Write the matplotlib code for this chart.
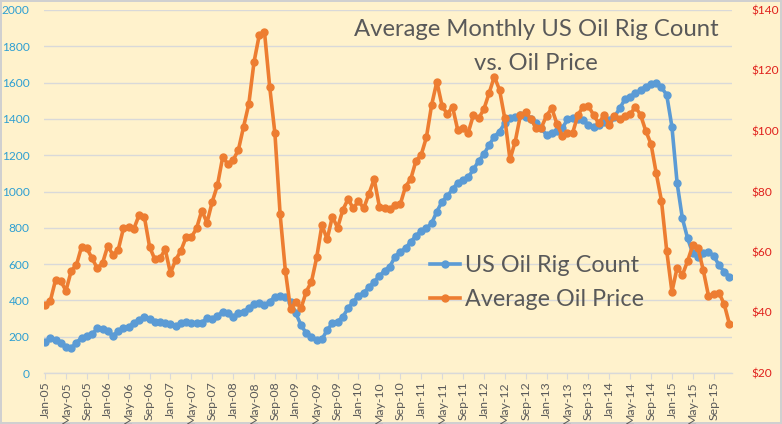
import matplotlib
matplotlib.use("Agg")
import matplotlib.pyplot as plt
import numpy as np
from matplotlib.lines import Line2D

plt.rcParams['font.family'] = ['Lato', 'DejaVu Sans']

# ---- data ----
years = list(range(2005, 2016))
month_names = ['Jan', 'Feb', 'Mar', 'Apr', 'May', 'Jun', 'Jul', 'Aug', 'Sep', 'Oct', 'Nov', 'Dec']
categories = [f"{m}-{str(y)[2:]}" for y in years for m in month_names]

rig_count = [
    169, 191, 182, 164, 142, 136, 167, 195, 204, 213, 246, 241,
    233, 204, 231, 246, 252, 277, 292, 310, 296, 279, 279, 277,
    268, 259, 274, 279, 274, 277, 277, 301, 296, 314, 338, 329,
    310, 329, 338, 356, 378, 387, 375, 393, 420, 424, 420, 393,
    329, 264, 219, 200, 182, 185, 237, 274, 283, 310, 356, 393,
    424, 443, 472, 503, 534, 564, 586, 641, 668, 687, 723, 755,
    784, 797, 825, 889, 944, 975, 1012, 1049, 1063, 1078, 1122, 1168,
    1205, 1256, 1302, 1330, 1376, 1403, 1412, 1421, 1412, 1397, 1376, 1348,
    1311, 1324, 1333, 1348, 1397, 1403, 1397, 1394, 1366, 1357, 1366, 1385,
    1394, 1412, 1458, 1508, 1523, 1541, 1559, 1577, 1592, 1596, 1574, 1532,
    1357, 1045, 852, 742, 659, 641, 659, 668, 645, 595, 558, 531,
]

oil_price = [
    42.5, 43.8, 50.7, 50.4, 47.2, 53.7, 55.7, 61.8, 61.2, 57.9, 54.6, 56.3,
    62.0, 59.0, 60.7, 67.8, 68.2, 67.7, 72.2, 71.7, 61.8, 57.6, 57.9, 60.9,
    53.0, 57.4, 60.4, 64.9, 64.9, 67.8, 73.7, 69.7, 76.6, 82.1, 91.3, 89.1,
    90.4, 93.7, 101.4, 108.9, 122.8, 131.7, 132.8, 114.6, 99.2, 72.4, 53.8, 41.0,
    43.6, 41.4, 46.9, 50.2, 58.2, 68.9, 64.2, 71.7, 68.0, 73.9, 77.5, 74.4,
    76.9, 74.4, 79.2, 84.1, 75.0, 74.4, 74.1, 75.5, 75.8, 81.6, 84.1, 90.1,
    92.1, 97.9, 108.6, 116.3, 108.3, 105.6, 108.0, 100.3, 100.9, 99.4, 105.3, 104.2,
    107.2, 112.5, 118.0, 113.6, 104.2, 90.6, 96.5, 105.3, 106.2, 104.0, 100.9, 101.1,
    105.1, 107.5, 102.3, 98.4, 99.4, 99.4, 105.3, 108.0, 108.3, 105.3, 102.5, 105.3,
    102.0, 105.0, 104.0, 104.8, 105.5, 108.0, 105.3, 100.0, 95.7, 86.0, 76.9, 60.4,
    46.9, 54.8, 52.4, 57.0, 62.3, 61.2, 54.0, 45.5, 46.0, 46.5, 42.8, 36.2,
]

left_ticks = [0, 200, 400, 600, 800, 1000, 1200, 1400, 1600, 1800, 2000]
right_ticks = [20, 40, 60, 80, 100, 120, 140]
right_labels = [f"${v}" for v in right_ticks]

series_names = ["US Oil Rig Count", "Average Oil Price"]
title_lines = ["Average Monthly US Oil Rig Count", "vs. Oil Price"]

# ---- style ----
BG = '#FFF2CC'
BLUE = '#5B9BD5'
ORANGE = '#ED7D31'
GRID = '#D9D9D9'
TEXT = '#595959'
LEFT_LBL = '#2E9FD2'
RIGHT_LBL = '#E0201B'

W, H = 782, 424
fig = plt.figure(figsize=(W / 100, H / 100), dpi=100)
fig.patch.set_facecolor(BG)
fig.patch.set_edgecolor('#D0D0D0')
fig.patch.set_linewidth(1.5)

x0, x1, ytop, ybot = 43.5, 732, 10, 373
ax = fig.add_axes([x0 / W, (H - ybot) / H, (x1 - x0) / W, (ybot - ytop) / H])
ax.set_facecolor(BG)
x = np.arange(len(categories))

ax.plot(x, rig_count, color=BLUE, lw=2.6, marker='o', ms=5, zorder=3,
        solid_joinstyle='round')
ax.set_ylim(0, 2000)
ax.set_xlim(-0.3, len(categories) - 1 + 0.5)
ax.set_yticks(left_ticks)
ax.grid(axis='y', color=GRID, lw=1.0)
ax.set_axisbelow(True)
for s in ['top', 'left', 'right']:
    ax.spines[s].set_visible(False)
ax.spines['bottom'].set_color(GRID)
ax.spines['bottom'].set_linewidth(1.0)
ax.tick_params(axis='y', length=0, labelcolor=LEFT_LBL, labelsize=8.6, pad=10)
ax.set_xticks(x[::4])
ax.set_xticklabels(categories[::4], rotation=90, fontsize=8.8, color=TEXT)
ax.tick_params(axis='x', length=4, color=GRID, pad=2)

ax2 = ax.twinx()
ax2.plot(x, oil_price, color=ORANGE, lw=2.6, marker='o', ms=5, zorder=3,
         solid_joinstyle='round')
ax2.set_ylim(20, 140)
ax2.set_yticks(right_ticks)
ax2.set_yticklabels(right_labels)
ax2.tick_params(axis='y', length=0, labelcolor=RIGHT_LBL, labelsize=8.6, pad=14)
for s in ['top', 'left', 'right', 'bottom']:
    ax2.spines[s].set_visible(False)

handles = [Line2D([], [], color=BLUE, lw=2.6, marker='o', ms=5),
           Line2D([], [], color=ORANGE, lw=2.6, marker='o', ms=5)]
fig.legend(handles, series_names, loc='center left',
           bbox_to_anchor=(430 / W, 1 - 282.5 / H), frameon=False,
           fontsize=16.8, handlelength=1.3, handletextpad=0.2,
           labelspacing=0.58, borderpad=0, borderaxespad=0, labelcolor=TEXT)

fig.text(536 / W, 1 - 36 / H, title_lines[0], ha='center', va='baseline',
         fontsize=17.2, color=TEXT)
fig.text(536 / W, 1 - 70 / H, title_lines[1], ha='center', va='baseline',
         fontsize=17.2, color=TEXT)

fig.savefig('out.png', dpi=100, facecolor=BG, edgecolor='#D0D0D0')
